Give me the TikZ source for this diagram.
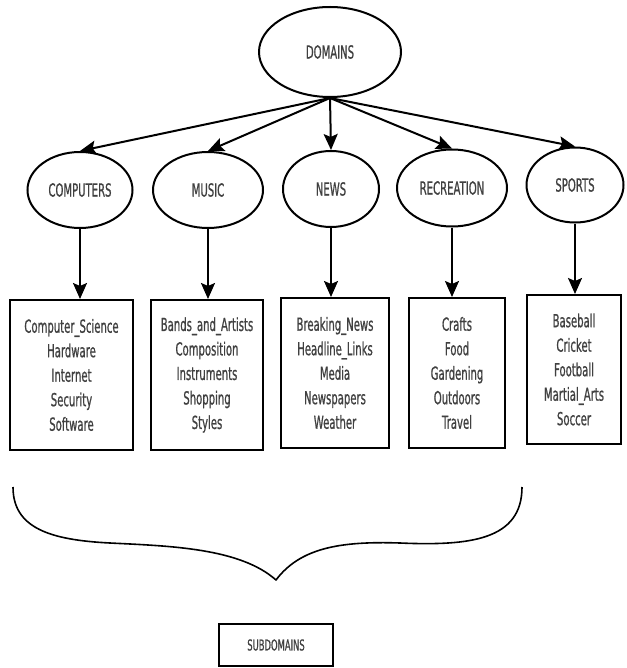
\documentclass[tikz,border=0pt]{standalone}
\usepackage{fontspec}
\usetikzlibrary{shapes.geometric,arrows.meta}
\newfontfamily\labfont[FakeStretch=0.56,FakeBold=0.8]{DejaVu Sans}
\begin{document}
\begin{tikzpicture}[x=1pt,y=-1pt,
  oval/.style={ellipse,draw,line width=2pt,inner sep=0pt,font=\labfont\fontsize{18}{20}\selectfont,text=black!75},
  listbox/.style={rectangle,draw,line width=2pt,inner sep=0pt,align=center,font=\labfont\fontsize{18}{24.5}\selectfont,text=black!75},
  arr/.style={line width=2pt,-{Stealth[length=16pt,width=14pt,inset=3pt]}}]
\useasboundingbox (0,0) rectangle (626,668);
% top node
\node[oval,minimum width=142pt,minimum height=90pt] (dom) at (330,52) {DOMAINS};
% domain nodes
\node[oval,minimum width=105pt,minimum height=76pt] (comp) at (80,190) {COMPUTERS};
\node[oval,minimum width=110pt,minimum height=76pt] (mus) at (208,190) {MUSIC};
\node[oval,minimum width=96pt,minimum height=76pt] (news) at (331,189) {NEWS};
\node[oval,minimum width=110pt,minimum height=77pt] (rec) at (452,188) {RECREATION};
\node[oval,minimum width=97pt,minimum height=75pt] (spo) at (575,185) {SPORTS};
% subdomain boxes
\node[listbox,minimum width=123pt,minimum height=150pt] (cbox) at (71.5,375) {Computer\_Science\\Hardware\\Internet\\Security\\Software};
\node[listbox,minimum width=112pt,minimum height=150pt] (mbox) at (207,375) {Bands\_and\_Artists\\Composition\\Instruments\\Shopping\\Styles};
\node[listbox,minimum width=108pt,minimum height=150pt] (nbox) at (335,373) {Breaking\_News\\Headline\_Links\\Media\\Newspapers\\Weather};
\node[listbox,minimum width=96pt,minimum height=150pt] (rbox) at (457,373) {Crafts\\Food\\Gardening\\Outdoors\\Travel};
\node[listbox,minimum width=94pt,minimum height=149pt] (sbox) at (574,369.5) {Baseball\\Cricket\\Football\\Martial\_Arts\\Soccer};
% subdomains label
\node[rectangle,draw,line width=1.6pt,minimum width=114pt,minimum height=42pt,inner sep=0pt,font=\labfont\fontsize{15}{17}\selectfont,text=black!75] (sub) at (276,645) {SUBDOMAINS};
% arrows from domains
\foreach \n in {comp,mus,news,rec,spo}
  \draw[arr] (dom.south) -- (\n.north);
% arrows to boxes
\draw[arr] (comp.south) -- (comp.south |- cbox.north);
\draw[arr] (mus.south) -- (mus.south |- mbox.north);
\draw[arr] (news.south) -- (news.south |- nbox.north);
\draw[arr] (rec.south) -- (rec.south |- rbox.north);
\draw[arr] (spo.south) -- (spo.south |- sbox.north);
% brace
\coordinate (bl) at (13,487);
\coordinate (bt) at (276,580);
\coordinate (br) at (522,487);
\draw[line width=1.6pt,line join=round]
  (bl) .. controls (13,528) and (50,540) .. (110,543)
  .. controls (170,546) and (240,548) .. (bt)
  .. controls (300,548) and (340,541) .. (400,543)
  .. controls (470,546) and (522,540) .. (br);
\end{tikzpicture}
\end{document}
